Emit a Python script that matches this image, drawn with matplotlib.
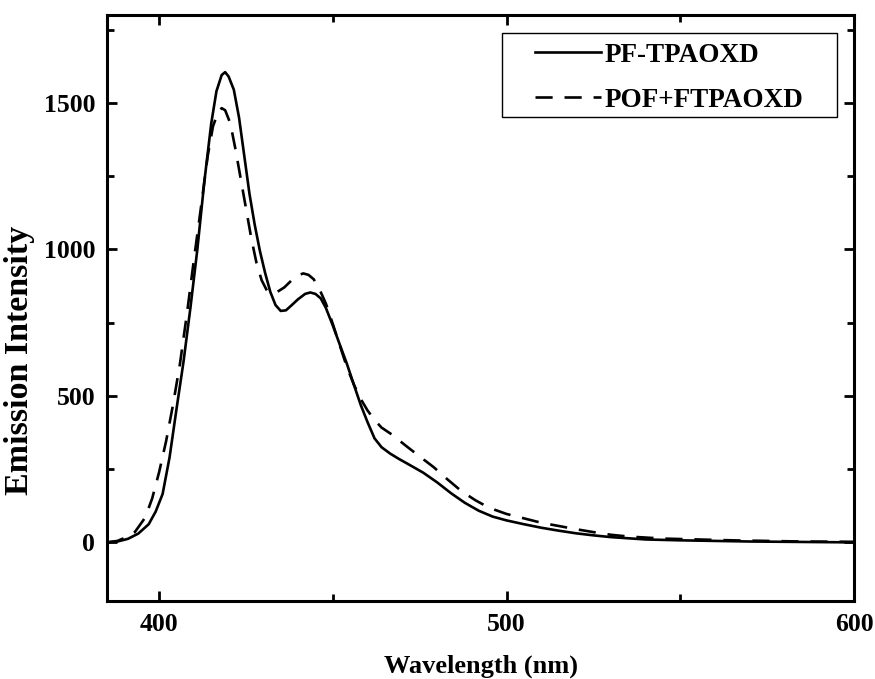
import matplotlib
matplotlib.use("Agg")
import matplotlib.pyplot as plt
from matplotlib.ticker import MultipleLocator
from matplotlib.patches import Rectangle

# PF-TPAOXD (solid)
pf_wl = [385, 388, 391, 394, 397, 399, 401, 403, 405, 407, 409, 411, 413, 415,
         416.5, 418, 419, 420, 421.5, 423, 424.5, 426, 427.5, 429, 430.5, 432,
         433.5, 435, 436.5, 438, 440, 442, 443.5, 445, 446.5, 448, 450, 452, 454,
         456, 458, 460, 462, 464, 466.5, 469, 472, 476, 480, 484, 488, 492, 496,
         500, 505, 510, 515, 520, 525, 530, 540, 550, 560, 570, 580, 590, 600]
pf_int = [0, 3, 12, 30, 62, 105, 165, 290, 455, 615, 800, 1000, 1230, 1430,
          1540, 1595, 1605, 1590, 1545, 1450, 1320, 1190, 1085, 995, 920, 855,
          810, 790, 792, 808, 830, 848, 853, 848, 833, 800, 740, 675, 611,
          540, 470, 410, 355, 325, 303, 285, 265, 238, 205, 168, 135, 108, 88,
          75, 62, 50, 40, 31, 24, 18, 10, 7, 5, 3, 2, 1, 0]

# POF+FTPAOXD (dashed)
pof_wl = [385, 388, 391, 393, 396, 398, 400, 402, 404, 406, 408, 410, 412, 414,
          415.5, 417, 418, 419, 420.5, 422, 423.5, 425, 426.5, 428, 429.5, 431,
          432.5, 434, 436, 438, 440, 441.5, 443, 444.5, 446, 448, 450, 452, 454,
          456, 458, 460, 462, 464, 467, 471, 475, 479, 483, 487, 491, 495, 500,
          505, 510, 515, 520, 525, 530, 535, 545, 555, 565, 575, 585, 600]
pof_int = [0, 5, 20, 35, 85, 150, 240, 345, 470, 610, 780, 964, 1140, 1320,
           1420, 1470, 1482, 1475, 1430, 1340, 1240, 1140, 1040, 955, 895, 860,
           850, 855, 870, 893, 912, 918, 913, 898, 868, 815, 745, 672, 600,
           540, 490, 450, 418, 392, 368, 330, 293, 257, 215, 175, 144, 118, 97,
           82, 67, 56, 45, 35, 26, 20, 13, 10, 7, 5, 3, 2]

plt.rcParams['font.family'] = ['Liberation Serif', 'DejaVu Serif']
plt.rcParams['font.weight'] = 'bold'

fig = plt.figure(figsize=(8.75, 6.79), dpi=100)
ax = fig.add_axes([0.1223, 0.1149, 0.9760 - 0.1223, 0.9779 - 0.1149])

ax.plot(pf_wl, pf_int, color='black', lw=1.9, label='PF-TPAOXD')
ax.plot(pof_wl, pof_int, color='black', lw=1.9, dashes=(6.5, 4.5), label='POF+FTPAOXD')

ax.set_xlim(385, 600)
ax.set_ylim(-200, 1800)
ax.xaxis.set_major_locator(MultipleLocator(100))
ax.xaxis.set_minor_locator(MultipleLocator(50))
ax.yaxis.set_major_locator(MultipleLocator(500))
ax.yaxis.set_minor_locator(MultipleLocator(250))

for s in ax.spines.values():
    s.set_linewidth(2.2)

ax.tick_params(which='both', direction='in', top=True, right=True, width=2.0)
ax.tick_params(which='major', length=7, labelsize=18.5, pad=8.5)
ax.tick_params(which='minor', length=5)
for lab in ax.get_xticklabels() + ax.get_yticklabels():
    lab.set_fontweight('bold')

ax.set_xlabel('Wavelength (nm)', fontsize=19, fontweight='bold')
ax.xaxis.set_label_coords(0.5, -0.091)
ax.set_ylabel('Emission Intensity', fontsize=24.5, fontweight='bold')
ax.yaxis.set_label_coords(-0.097, 0.411)

leg = ax.legend(loc='upper left', bbox_to_anchor=(0.573, 0.953), frameon=False,
                handlelength=2.45, handletextpad=0.12, borderpad=0, borderaxespad=0,
                labelspacing=0.75, prop={'weight': 'bold', 'size': 19.5})
ax.add_patch(Rectangle((0.529, 0.826), 0.4485, 0.1433, transform=ax.transAxes,
                       fill=False, edgecolor='black', lw=1.0, zorder=5))

fig.savefig('out.png', dpi=100)
